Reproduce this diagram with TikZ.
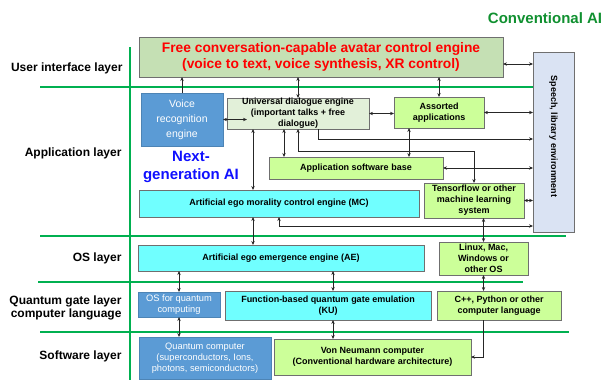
\documentclass[tikz,border=0pt]{standalone}
\usepackage{fontspec}
\setmainfont{Liberation Sans}
\usetikzlibrary{arrows.meta}
\definecolor{gline}{HTML}{00B050}
\definecolor{titlegreen}{HTML}{109030}
\definecolor{freefill}{HTML}{C5E0B4}
\definecolor{speechfill}{HTML}{DAE3F3}
\definecolor{vblue}{HTML}{5B9BD5}
\definecolor{univfill}{HTML}{E2F0D9}
\definecolor{limefill}{HTML}{CCFF99}
\definecolor{cyanfill}{HTML}{70FFFF}
\definecolor{bgray}{HTML}{6F6F6F}
\definecolor{nextblue}{HTML}{1010FF}
\begin{document}
\begin{tikzpicture}[x=1pt,y=-1pt,
  >={Stealth[length=4pt,width=3.4pt]},
  pbox/.style={draw=bgray, line width=0.8pt, inner sep=0pt, outer sep=0pt, anchor=north west, align=center, font=\bfseries\fontsize{9}{11}\selectfont},
  limebox/.style={pbox, fill=limefill},
  cyanbox/.style={pbox, fill=cyanfill},
  bluebox/.style={pbox, fill=vblue, draw=vblue!85!black, text=white, font=\fontsize{9.3}{11}\selectfont},
  layerlab/.style={anchor=east, align=right, font=\bfseries\fontsize{12}{13.5}\selectfont},
  gridline/.style={draw=gline, line width=2pt},
  conn/.style={draw=black!85, line width=0.7pt}]
\useasboundingbox (0,0) rectangle (604,380);

% green grid
\draw[gridline] (130,47) -- (130,380);
\draw[gridline] (40,87) -- (533,87);
\draw[gridline] (40,236) -- (566,236);
\draw[gridline] (38,282) -- (523,282);
\draw[gridline] (40,332) -- (569,332);

% title
\node[font=\bfseries\fontsize{15}{17}\selectfont, text=titlegreen] (title) at (545,18) {Conventional AI};

% layer labels
\node[layerlab] (l1) at (126,68) {User interface layer};
\node[layerlab] (l2) at (125,153) {Application layer};
\node[layerlab] (l3) at (125,258) {OS layer};
\node[layerlab] (l4) at (125,308) {Quantum gate layer\\computer language};
\node[layerlab] (l5) at (125,356) {Software layer};

% boxes
\node[pbox, fill=freefill, minimum width=364pt, minimum height=40pt, text=red,
      font=\bfseries\fontsize{13.8}{16}\selectfont] (free) at (139,37)
      {Free conversation-capable avatar control engine\\(voice to text, voice synthesis, XR control)};
\node[pbox, fill=speechfill, minimum width=41pt, minimum height=180pt] (speech) at (533,52) {};
\node[rotate=-90, font=\bfseries\fontsize{9}{11}\selectfont] (speechtxt) at ([yshift=5.5pt]speech.center) {Speech, library environment};
\node[bluebox, minimum width=82pt, minimum height=53pt, font=\fontsize{10.5}{15}\selectfont] (voice) at (141,93) {Voice\\recognition\\engine};
\node[pbox, fill=univfill, minimum width=142pt, minimum height=31pt] (univ) at (227,98)
      {Universal dialogue engine\\(important talks + free\\dialogue)};
\node[limebox, minimum width=90pt, minimum height=31pt] (assort) at (394,97) {Assorted\\applications};
\node[limebox, minimum width=174pt, minimum height=22pt] (appbase) at (269,157) {Application software base};
\node[limebox, minimum width=100pt, minimum height=35pt] (tensor) at (424,183) {Tensorflow or other\\machine learning\\system};
\node[cyanbox, minimum width=280pt, minimum height=27pt] (mc) at (139,190) {Artificial ego morality control engine (MC)};
\node[cyanbox, minimum width=286pt, minimum height=26pt] (ae) at (138,245) {Artificial ego emergence engine (AE)};
\node[limebox, minimum width=89pt, minimum height=33pt] (linux) at (439,242) {Linux, Mac,\\Windows or\\other OS};
\node[bluebox, minimum width=82pt, minimum height=25pt] (osq) at (138,292) {OS for quantum\\computing};
\node[cyanbox, minimum width=206pt, minimum height=29pt] (ku) at (225,291) {Function-based quantum gate emulation\\(KU)};
\node[limebox, minimum width=124pt, minimum height=29pt] (cpp) at (437,291) {C++, Python or other\\computer language};
\node[bluebox, minimum width=132pt, minimum height=42pt] (qc) at (139,337) {Quantum computer\\(superconductors, Ions,\\photons, semiconductors)};
\node[limebox, minimum width=197pt, minimum height=36pt] (vn) at (274,339) {Von Neumann computer\\(Conventional hardware architecture)};

\node[font=\bfseries\fontsize{15}{18}\selectfont, text=nextblue, align=center] (nextai) at (191,167) {Next-\\generation AI};

% connector helper coordinates
\coordinate (d1) at ([yshift=-7pt]free.east);
\coordinate (h1) at ([xshift=20pt]univ.south);
\coordinate (hb) at (318,139);
\coordinate (i1) at ([xshift=-14pt]univ.south);
\coordinate (jb) at (298,151);
\coordinate (k1) at ([xshift=-30pt]assort.south);
\coordinate (m1) at ([xshift=-45pt]univ.south);
\coordinate (ob) at (279,226);
\coordinate (t1) at ([xshift=5pt]ku.north);
\coordinate (w1) at (linux.south |- cpp.south);

% connectors
\draw[conn,->] (voice.north) -- (voice.north |- free.south);
\draw[conn,<->] (univ.north |- free.south) -- (univ.north);
\draw[conn,<->] (assort.north |- free.south) -- (assort.north);
\draw[conn,<->] (d1) -- (d1 -| speech.west);
\draw[conn,<->] (voice.east) -- ++(24,0);
\draw[conn,<->] (univ.east) -- (univ.east -| assort.west);
\draw[conn,<->] (assort.east) -- (assort.east -| speech.west);
\draw[conn,->] (h1) -- (hb) -- (hb -| speech.west);
\draw[conn,<->] (i1) -- (i1 |- appbase.north);
\draw[conn,<->] (univ.south) -- (jb) -| (tensor.north);
\draw[conn,<->] (k1) -- (k1 |- appbase.north);
\draw[conn,<->] (appbase.east) -- (appbase.east -| speech.west);
\draw[conn,<->] (m1) -- (m1 |- mc.north);
\draw[conn,<->] (tensor.east) -- (tensor.east -| speech.west);
\draw[conn,<->] (mc.south) -- (ob) -- (ob -| speech.west);
\draw[conn,<->] (m1 |- mc.south) -- (m1 |- ae.north);
\draw[conn,<->] (linux.north |- tensor.south) -- (linux.north);
\draw[conn,<->] (osq.north |- ae.south) -- (osq.north);
\draw[conn,<->] (osq.south) -- (osq.south |- qc.north);
\draw[conn,<->] (t1 |- ae.south) -- (t1);
\draw[conn,<->] (t1 |- ku.south) -- (t1 |- vn.north);
\draw[conn,<->] (linux.south) -- (linux.south |- cpp.north);
\draw[conn,->] (w1) |- (vn.east);
\end{tikzpicture}
\end{document}
